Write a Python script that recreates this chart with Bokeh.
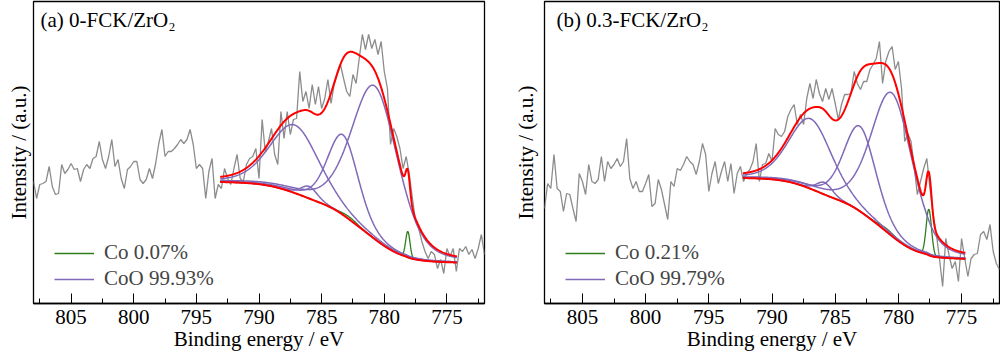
import numpy as np
from bokeh.plotting import figure
from bokeh.layouts import row
from bokeh.models import Range1d, FixedTicker, Legend, LegendItem, Label, Title
from bokeh.embed import file_html
from bokeh.resources import INLINE

# ---------------- data ----------------
# measured Co 2p spectra, binding energy 808 -> 772 eV in 0.25 eV steps
energy_start = 808.0
energy_stop = 772.0
energy_step = 0.25

intensity_a = [
    122, 105, 119, 120, 122, 137, 117, 109, 110, 139, 130, 134, 140, 134, 135, 122, 134,
    139, 135, 145, 147, 162, 144, 135, 147, 164, 137, 144, 125, 115, 134, 137, 142, 142,
    124, 120, 124, 135, 125, 140, 160, 174, 147, 152, 152, 155, 159, 164, 160, 164, 174,
    159, 135, 139, 135, 105, 132, 145, 105, 119, 115, 135, 125, 119, 135, 149, 125, 122,
    139, 145, 147, 155, 125, 184, 152, 162, 175, 149, 139, 192, 165, 192, 169, 184, 185,
    232, 202, 212, 195, 219, 199, 217, 195, 205, 224, 200, 219, 229,
    239, 225, 212, 207, 229, 220, 245, 269, 254, 269, 255, 264, 249, 262, 232, 215, 159,
    175, 167, 155, 135, 147, 129, 105, 82, 75, 62, 52, 45, 52, 49, 35, 44, 30, 55, 47,
    55, 32, 55, 52, 57, 49, 54, 45, 55, 69, 49,
]
intensity_b = [
    95, 120, 115, 149, 115, 112, 92, 110, 109, 95, 82, 130, 122, 109, 139, 122, 120, 124,
    147, 122, 142, 135, 139, 145, 137, 142, 165, 125, 115, 122, 112, 112, 120, 129, 97,
    100, 124, 114, 99, 84, 122, 117, 135, 133, 139, 147, 142, 139, 129, 142,
    160, 149, 112, 130, 142, 120, 132, 142, 122, 140, 110, 130, 137, 122, 130, 134, 142,
    160, 122, 139, 140, 150, 142, 175, 169, 167, 172, 187, 194, 199, 179, 189, 179, 205,
    220, 205, 224, 210, 202, 215, 204, 215, 200, 184, 199, 209, 209,
    210, 232, 220, 214, 222, 222, 234, 239, 245, 262, 220, 242, 252, 257, 234, 242, 215,
    162, 170, 162, 137, 109, 122, 135, 145, 115, 89, 70, 45, 17, 65, 49, 35, 42, 22, 65,
    45, 27, 45, 49, 50, 69, 72, 64, 79, 52, 40, 34,
]

# peak-fit parameters read from the drawn components
fit_range_a = (793.1, 774.2)
bg_ends_a = (121.5, 41.0)
coo_center_a = [780.75, 783.3, 787.15, 786.0]
coo_height_a = [153, 80, 68, 12]
coo_fwhm_a = [4.4, 2.9, 4.6, 1.6]
co_center_a = [778.12, 782.8]
co_height_a = [26, 2.5]
co_fwhm_a = [0.4, 1.5]

fit_range_b = (792.3, 774.7)
bg_ends_b = (125.5, 44.7)
coo_center_b = [780.5, 783.05, 786.95, 785.85]
coo_height_b = [143, 85, 70, 12]
coo_fwhm_b = [3.9, 3.0, 4.0, 1.5]
co_center_b = [777.59, 780.9]
co_height_b = [46, 3]
co_fwhm_b = [0.5, 1.5]

lorentz_fraction = 0.3

titles = ["(a) 0-FCK/ZrO\u2082", "(b) 0.3-FCK/ZrO\u2082"]
co_labels = ["Co 0.07%", "Co 0.21%"]
coo_labels = ["CoO 99.93%", "CoO 99.79%"]
x_title = "Binding energy / eV"
y_title = "Intensity / (a.u.)"

major_ticks = [775, 780, 785, 790, 795, 800, 805]
minor_ticks = [772.5, 777.5, 782.5, 787.5, 792.5, 797.5, 802.5, 807.5]

FONT = "Liberation Serif"
FS = "21px"
GRAY = "#8c8c8c"
RED = "#ff0000"
PURPLE = "#7f69b8"
GREEN = "#2f7d1c"


def pseudo_voigt(e, c, h, w, eta):
    x = (e - c) / w
    return h * ((1 - eta) * np.exp(-4 * np.log(2) * x ** 2) + eta / (1 + 4 * x ** 2))


def panel(intensity, fit_range, bg_ends, coo_c, coo_h, coo_w, co_c, co_h, co_w,
          title, co_label, coo_label, width, border_left, border_right, title_dx, ylab_gap):
    energy = np.arange(energy_start, energy_stop - 0.01, -energy_step)
    p = figure(width=width, height=356, output_backend="svg", toolbar_location=None,
               x_range=Range1d(808, 772), y_range=Range1d(0, 302),
               min_border_left=border_left, min_border_right=border_right,
               min_border_top=1, min_border_bottom=53)
    p.grid.visible = False
    p.outline_line_color = "black"
    p.outline_line_width = 1.3
    p.background_fill_color = "white"
    p.border_fill_color = "white"

    p.line(energy, intensity, color=GRAY, line_width=1.3)

    e = np.linspace(fit_range[0], fit_range[1], 400)
    coo = [pseudo_voigt(e, c, h, w, lorentz_fraction) for c, h, w in zip(coo_c, coo_h, coo_w)]
    co = sum(pseudo_voigt(e, c, h, w, 0.0) for c, h, w in zip(co_c, co_h, co_w))
    total = sum(coo) + co
    cum = np.cumsum(total[::-1])[::-1]
    frac = cum / cum[0]
    bg = bg_ends[1] + (bg_ends[0] - bg_ends[1]) * frac

    r_co = p.line(e, bg + co, color=GREEN, line_width=1.3)
    r_coo = None
    for comp in coo:
        r = p.line(e, bg + comp, color=PURPLE, line_width=1.5)
        if r_coo is None:
            r_coo = r
    p.line(e, bg, color=RED, line_width=2)
    p.line(e, bg + total, color=RED, line_width=2)

    xa = p.xaxis[0]
    xa.ticker = FixedTicker(ticks=major_ticks, minor_ticks=minor_ticks)
    xa.major_tick_in = 10
    xa.major_tick_out = 0
    xa.minor_tick_in = 5
    xa.minor_tick_out = 0
    xa.major_label_standoff = 6
    xa.major_label_text_font = FONT
    xa.major_label_text_font_size = FS
    xa.major_label_text_color = "black"
    xa.axis_label = x_title
    xa.axis_label_standoff = 0
    xa.axis_label_text_font = FONT
    xa.axis_label_text_font_size = FS
    xa.axis_label_text_font_style = "normal"
    xa.axis_label_text_color = "black"
    xa.axis_line_color = "black"
    xa.axis_line_width = 1.3
    xa.major_tick_line_color = "black"
    xa.minor_tick_line_color = "black"

    # intensity axis: no ticks or numbers, only its title
    p.yaxis.visible = False
    p.add_layout(Title(text=y_title, align="center", standoff=ylab_gap,
                       text_font=FONT, text_font_size=FS, text_font_style="normal",
                       text_color="black"), "left")

    p.add_layout(Label(x=title_dx, y=284, x_units="screen", y_units="screen",
                       text=title, text_font=FONT, text_font_size=FS,
                       text_color="black", text_baseline="alphabetic"))

    legend = Legend(items=[LegendItem(label=co_label, renderers=[r_co]),
                           LegendItem(label=coo_label, renderers=[r_coo])],
                    location=(21, 12), glyph_width=40, glyph_height=20,
                    label_standoff=10, spacing=1, padding=0, margin=0,
                    border_line_color=None, background_fill_alpha=0,
                    label_text_font=FONT, label_text_font_size=FS,
                    label_height=20)
    p.add_layout(legend)
    return p


pa = panel(intensity_a, fit_range_a, bg_ends_a, coo_center_a, coo_height_a, coo_fwhm_a,
           co_center_a, co_height_a, co_fwhm_a, titles[0], co_labels[0], coo_labels[0],
           500, 33, 16, 7, 6)
pb = panel(intensity_b, fit_range_b, bg_ends_b, coo_center_b, coo_height_b, coo_fwhm_b,
           co_center_b, co_height_b, co_fwhm_b, titles[1], co_labels[1], coo_labels[1],
           500, 44, 1, 12, 14)

layout = row(pa, pb)
open("out.html", "w").write(file_html(layout, INLINE))
